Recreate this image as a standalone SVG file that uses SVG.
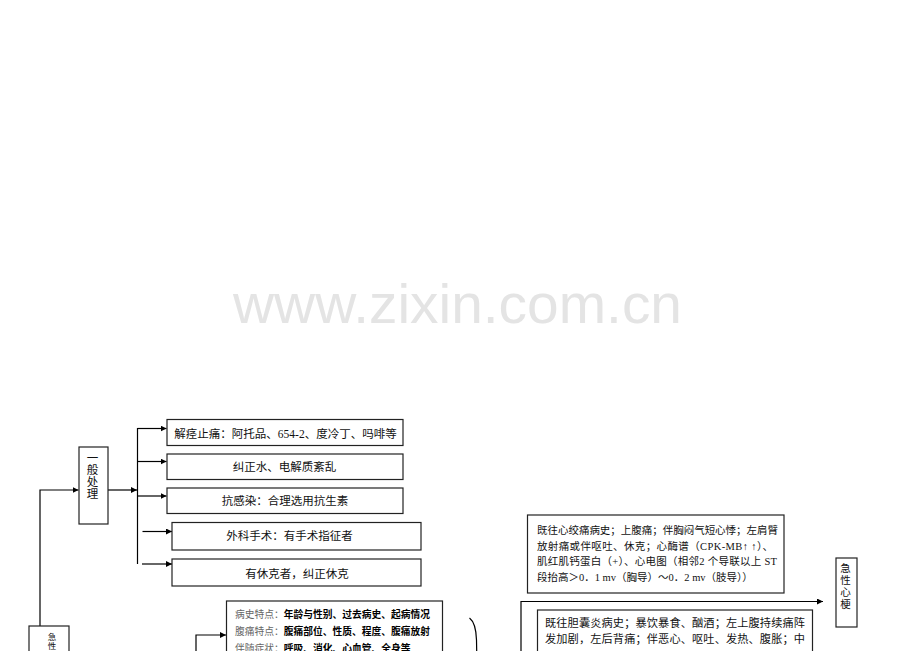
<svg xmlns="http://www.w3.org/2000/svg" width="920" height="651" viewBox="0 0 920 651">
<defs>
<marker id="ah" viewBox="0 0 6 6" refX="6" refY="3" markerWidth="6" markerHeight="6" orient="auto" markerUnits="userSpaceOnUse"><path d="M0,0 L6,3 L0,6 z" fill="#000"/></marker>
<style>
.box{fill:#fff;stroke:#222;stroke-width:1.2}
.ln{fill:none;stroke:#000;stroke-width:1.2}
.t{font-family:"Liberation Serif","Noto Sans CJK SC",serif;fill:#111}
.c{text-anchor:middle}
.wm{font-family:"Liberation Sans",Arial,sans-serif;fill:#e4e4e4}
.lab{fill:#666;font-weight:normal}
.bd{font-weight:bold;fill:#000}
</style>
</defs>
<rect width="920" height="651" fill="#fff"/>
<text class="wm" x="233" y="323" font-size="55" textLength="449" lengthAdjust="spacingAndGlyphs">www.zixin.com.cn</text>

<g id="connectors">
<path class="ln" d="M40,626 V490 H78.5" marker-end="url(#ah)"/>
<path class="ln" d="M108,490 H137" marker-end="url(#ah)"/>
<path class="ln" d="M137.5,428 V564"/>
<path class="ln" d="M137.5,428.5 H166.5" marker-end="url(#ah)"/>
<path class="ln" d="M137.5,461.5 H166.5" marker-end="url(#ah)"/>
<path class="ln" d="M137.5,496 H166.5" marker-end="url(#ah)"/>
<path class="ln" d="M142.5,531.5 H172" marker-end="url(#ah)"/>
<path class="ln" d="M142,564 H172" marker-end="url(#ah)"/>
<path class="ln" d="M196,651 V635 H226" marker-end="url(#ah)"/>
<path class="ln" d="M521,651 V601.5 H823" marker-end="url(#ah)"/>
<path class="ln" d="M469.5,618 Q476,623 476.5,640 L476.7,651"/>
</g>

<g id="node-general">
<rect class="box" x="79" y="447" width="29" height="77"/>
<g class="t c" font-size="11.5">
<text x="92.5" y="462">一</text>
<text x="92.5" y="474">般</text>
<text x="92.5" y="486">处</text>
<text x="92.5" y="498">理</text>
</g>
</g>

<g id="node-spasm">
<rect class="box" x="167" y="419.5" width="236" height="26"/>
<text class="t c" x="285.5" y="437.5" font-size="11.5">解痉止痛：阿托品、654-2、度冷丁、吗啡等</text>
</g>

<g id="node-water">
<rect class="box" x="167" y="454" width="236" height="25.5"/>
<text class="t c" x="284.5" y="471" font-size="11.5">纠正水、电解质紊乱</text>
</g>

<g id="node-infection">
<rect class="box" x="167" y="488" width="236" height="25.5"/>
<text class="t c" x="285" y="505" font-size="11.5">抗感染：合理选用抗生素</text>
</g>

<g id="node-surgery">
<rect class="box" x="172" y="522.5" width="249" height="27.5"/>
<text class="t c" x="289.5" y="540" font-size="11.5">外科手术：有手术指征者</text>
</g>

<g id="node-shock">
<rect class="box" x="172" y="559" width="249" height="27"/>
<text class="t c" x="297" y="577.5" font-size="11.5">有休克者，纠正休克</text>
</g>

<g id="node-acute">
<rect class="box" x="29" y="626" width="40" height="40"/>
<g class="t c" font-size="8.5">
<text x="52" y="640">急</text>
<text x="52" y="649">性</text>
</g>
</g>

<g id="node-history">
<rect class="box" x="226.5" y="601" width="216" height="60"/>
<g class="t" font-size="9.75">
<text x="235" y="617.5"><tspan class="lab">病史特点：</tspan><tspan class="bd">年龄与性别、过去病史、起病情况</tspan></text>
<text x="235" y="634.5"><tspan class="lab">腹痛特点：</tspan><tspan class="bd">腹痛部位、性质、程度、腹痛放射</tspan></text>
<text x="235" y="651.5"><tspan class="lab">伴随症状：</tspan><tspan class="bd">呼吸、消化、心血管、全身等</tspan></text>
</g>
</g>

<g id="node-mi-criteria">
<rect class="box" x="527.5" y="515" width="256.5" height="78"/>
<g class="t" font-size="10.5">
<text x="537" y="534" textLength="241" lengthAdjust="spacing">既往心绞痛病史；上腹痛；伴胸闷气短心悸；左肩臂</text>
<text x="537" y="549.5" textLength="236" lengthAdjust="spacing">放射痛或伴呕吐、休克；心酶谱（CPK-MB<tspan font-weight="bold">↑ ↑</tspan>）、</text>
<text x="537" y="565" textLength="240" lengthAdjust="spacing">肌红肌钙蛋白（+）、心电图（相邻2 个导联以上 ST</text>
<text x="537" y="580.5">段抬高＞0．1 mv（胸导）～0．2 mv（肢导））</text>
</g>
</g>

<g id="node-mi">
<rect class="box" x="836" y="558" width="21" height="69"/>
<g class="t c" font-size="10.5">
<text x="845.5" y="572">急</text>
<text x="845.5" y="584">性</text>
<text x="845.5" y="596">心</text>
<text x="845.5" y="607.5">梗</text>
</g>
</g>

<g id="node-pancreatitis">
<rect class="box" x="537.5" y="610" width="275" height="50"/>
<g class="t" font-size="11.2">
<text x="545" y="626.5" textLength="260" lengthAdjust="spacing">既往胆囊炎病史；暴饮暴食、酗酒；左上腹持续痛阵</text>
<text x="545" y="643" textLength="260" lengthAdjust="spacing">发加剧，左后背痛；伴恶心、呕吐、发热、腹胀；中</text>
</g>
</g>
</svg>
